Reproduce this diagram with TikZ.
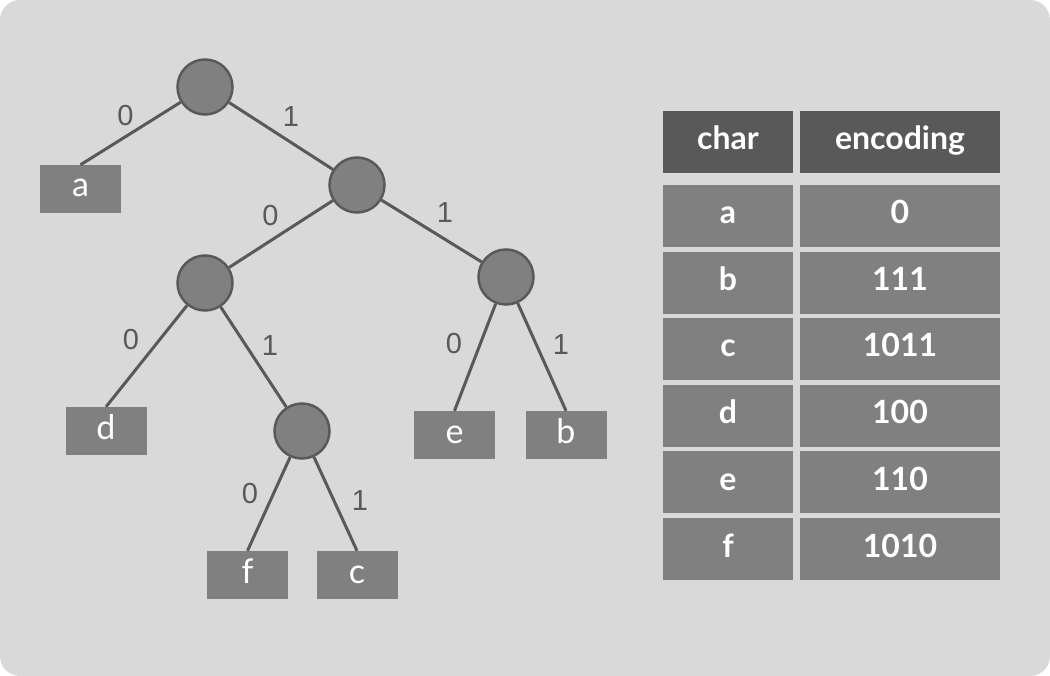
\documentclass[tikz,border=0pt]{standalone}
\usepackage{fontspec}
\setmainfont{Lato}
\newfontfamily\lblfont{Liberation Sans}
\definecolor{bgc}{HTML}{D9D9D9}
\definecolor{dk}{HTML}{595959}
\definecolor{md}{HTML}{808080}
\tikzset{
  inner/.style={circle, fill=md, draw=dk, line width=2.5pt, minimum size=55pt, inner sep=0pt},
  leaf/.style={rectangle, fill=md, minimum width=81pt, minimum height=48pt, inner sep=0pt,
    text height=16pt, text depth=0pt, text=white, font=\fontsize{34}{34}\selectfont},
  edge/.style={draw=dk, line width=3pt},
  elbl/.style={text=dk, font=\lblfont\fontsize{29}{29}\selectfont, inner sep=0pt},
  hcell/.style={rectangle, fill=dk, minimum height=62pt, inner sep=0pt, text=white,
    text height=16pt, text depth=0pt, font=\bfseries\fontsize{32}{32}\selectfont},
  rcell/.style={rectangle, fill=md, minimum height=62pt, inner sep=0pt, text=white,
    text height=16pt, text depth=0pt, font=\bfseries\fontsize{32}{32}\selectfont},
}
\begin{document}
\begin{tikzpicture}[x=1pt,y=-1pt]
\useasboundingbox (0,0) rectangle (1050,676);
\fill[bgc, rounded corners=20pt] (0,0) rectangle (1050,676);
% internal nodes
\node[inner] (r) at (205,87) {};
\node[inner] (n2) at (357,185) {};
\node[inner] (n3) at (205,283) {};
\node[inner] (n4) at (506,277) {};
\node[inner] (n5) at (302,431) {};
% leaves
\node[leaf] (la) at (80.5,189) {a};
\node[leaf] (ld) at (106,431) {d};
\node[leaf] (le) at (454.5,435) {e};
\node[leaf] (lb) at (566,435) {b};
\node[leaf] (lf) at (247.5,575) {f};
\node[leaf] (lc) at (357,575) {c};
% edges
\draw[edge] (r) -- (la.north);
\draw[edge] (r) -- (n2);
\draw[edge] (n2) -- (n3);
\draw[edge] (n2) -- (n4);
\draw[edge] (n3) -- (ld.north);
\draw[edge] (n3) -- (n5);
\draw[edge] (n4) -- (le.north);
\draw[edge] (n4) -- (lb.north);
\draw[edge] (n5) -- (lf.north);
\draw[edge] (n5) -- (lc.north);
% edge labels
\node[elbl] (e1) at (125.5,116) {0};
\node[elbl] (e2) at (291,117) {1};
\node[elbl] (e3) at (270.5,216) {0};
\node[elbl] (e4) at (445,213) {1};
\node[elbl] (e5) at (131,340) {0};
\node[elbl] (e6) at (270,346) {1};
\node[elbl] (e7) at (454,344) {0};
\node[elbl] (e8) at (561,345) {1};
\node[elbl] (e9) at (250,494) {0};
\node[elbl] (e10) at (360,501) {1};
% table
\node[hcell, minimum width=130pt] (h1) at (728,142) {char};
\node[hcell, minimum width=200pt] (h2) at (900,142) {encoding};
\foreach \c/\e/\y [count=\i] in {a/0/216, b/111/283, c/1011/349, d/100/416, e/110/482, f/1010/549}{
  \node[rcell, minimum width=130pt] (c\i) at (728,\y) {\c};
  \node[rcell, minimum width=200pt] (v\i) at (900,\y) {\e};
}
\end{tikzpicture}
\end{document}
